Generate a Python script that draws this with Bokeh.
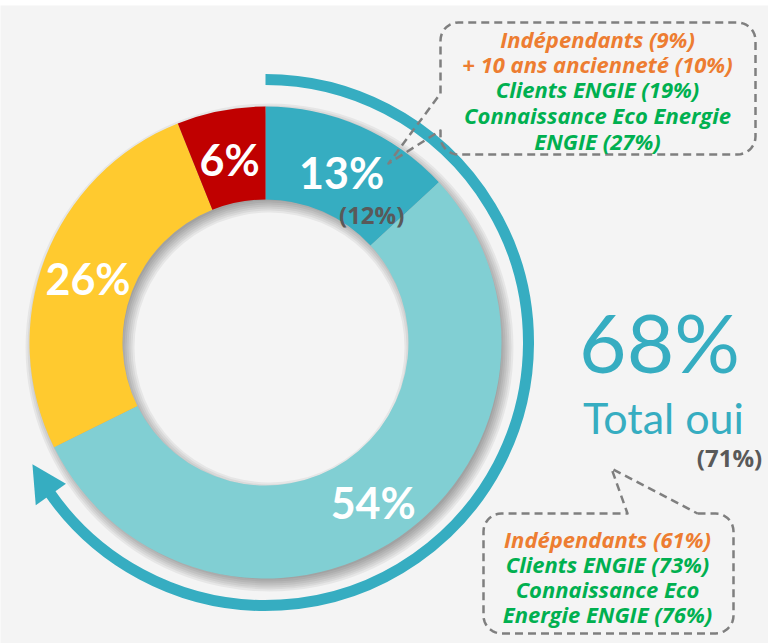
import numpy as np
from bokeh.plotting import figure
from bokeh.models import Range1d, ColumnDataSource
from bokeh.core.properties import value
from bokeh.embed import file_html
from bokeh.resources import INLINE

# ---------------- data ----------------
segment_keys = ["seg_a", "seg_b", "seg_c", "seg_d"]
segment_values = [13, 54, 26, 6]
segment_labels = ["13%", "54%", "26%", "6%"]
segment_colors = ["#36adc1", "#81cfd3", "#ffca2f", "#c00000"]
previous_first = "(12%)"

total_oui_label = "68%"
total_oui_text = "Total oui"
total_oui_previous = "(71%)"

top_callout_lines = ["Indépendants (9%)", "+ 10 ans ancienneté (10%)", "Clients ENGIE (19%)",
                     "Connaissance Eco Energie", "ENGIE (27%)"]
top_callout_colors = ["#ed7d31", "#ed7d31", "#00b050", "#00b050", "#00b050"]
bottom_callout_lines = ["Indépendants (61%)", "Clients ENGIE (73%)", "Connaissance Eco",
                        "Energie ENGIE (76%)"]
bottom_callout_colors = ["#ed7d31", "#00b050", "#00b050", "#00b050"]

# ---------------- layout ----------------
W, H = 768, 638
TOP = 5           # picture row where the figure starts


def Y(yi):
    return 643 - np.asarray(yi, dtype=float)


BG = "#f4f4f4"
TEAL = "#36adc1"
GREY_TXT = "#595959"
DASH_COL = "#7f7f7f"

cx, cy = 265.0, float(Y(342))
R_OUT, R_IN = 236.0, 143.0
R_ARROW = 263.0

p = figure(width=W, height=H, output_backend="svg", toolbar_location=None,
           x_range=Range1d(0, W), y_range=Range1d(0, H),
           x_axis_type=None, y_axis_type=None, min_border=0,
           background_fill_color=BG, border_fill_color=BG, outline_line_color=None)
p.grid.visible = False
p.margin = (TOP, 0, 0, 0)

# shadow of the ring
for s in [-4, -2, 0, 2, 4, 6, 8]:
    p.annulus(x=cx + 4, y=cy - 5, inner_radius=R_IN - s, outer_radius=R_OUT + s,
              fill_color="black", fill_alpha=0.055, line_color=None)

# donut
vals = np.array(segment_values, dtype=float)
total = vals.sum()
cum = np.concatenate([[0], np.cumsum(vals)])
start = np.pi / 2 - 2 * np.pi * cum[:-1] / total
end = np.pi / 2 - 2 * np.pi * cum[1:] / total
mid = 2 * np.pi * (cum[:-1] + cum[1:]) / 2 / total
R_LAB = 190.0
src = ColumnDataSource(dict(key=segment_keys, value=segment_values, start=start, end=end,
                            color=segment_colors, label=segment_labels,
                            lx=cx + R_LAB * np.sin(mid), ly=cy + R_LAB * np.cos(mid) - 4))
p.annular_wedge(x=cx, y=cy, inner_radius=R_IN, outer_radius=R_OUT, start_angle="start",
                end_angle="end", direction="clock", fill_color="color", line_color=None,
                source=src)
p.text(x="lx", y="ly", text="label", source=src, text_color="white",
       text_font=value("Lato"), text_font_style="bold", text_font_size="43px",
       text_align="center", text_baseline="middle")
p.text(x=[src.data["lx"][0] + 30], y=[src.data["ly"][0] - 42], text=[previous_first],
       text_color=GREY_TXT, text_font=value("Open Sans"), text_font_style="bold",
       text_font_size="24px", text_align="center", text_baseline="middle")

# arrow around the "oui" part
end_deg = 235.5
p.arc(x=cx, y=cy, radius=R_ARROW, start_angle=np.pi / 2,
      end_angle=np.pi / 2 - np.radians(end_deg), direction="clock",
      line_color=TEAL, line_width=11)


def polar(r, deg):
    t = np.radians(deg)
    return cx + r * np.sin(t), cy + r * np.cos(t)


tip = polar(R_ARROW, 242.4)
b1 = polar(R_ARROW + 18.5, 234.7)
b2 = polar(R_ARROW - 18.5, 234.7)
p.patch(x=[tip[0], b1[0], b2[0]], y=[tip[1], b1[1], b2[1]], fill_color=TEAL, line_color=None)

# total oui
p.text(x=[659], y=Y([340]), text=[total_oui_label], text_color=TEAL, text_font=value("Lato"),
       text_font_size="82px", text_align="center", text_baseline="middle")
p.text(x=[663], y=Y([417]), text=[total_oui_text], text_color=TEAL, text_font=value("Lato"),
       text_font_size="43px", text_align="center", text_baseline="middle")
p.text(x=[729], y=Y([457]), text=[total_oui_previous], text_color=GREY_TXT,
       text_font=value("Open Sans"), text_font_style="bold", text_font_size="24px",
       text_align="center", text_baseline="middle")


# callouts
def corner(xc, yc, r, a0, a1, n=10):
    a = np.radians(np.linspace(a0, a1, n))
    return list(zip(xc + r * np.cos(a), yc + r * np.sin(a)))


def draw_path(pts):
    xs = [q[0] for q in pts]
    ys = [float(Y(q[1])) for q in pts]
    p.line(xs, ys, line_color=DASH_COL, line_width=2.5, line_dash="8 5", line_join="round")


x0, y0, x1, y1, r = 440, 22, 755, 154, 18
pts = [(x0, 93)]
pts += corner(x0 + r, y0 + r, r, 180, 270)
pts += corner(x1 - r, y0 + r, r, 270, 360)
pts += corner(x1 - r, y1 - r, r, 0, 90)
pts += corner(x0 + r, y1 - r, r, 90, 180)
pts += [(x0, 130), (388, 163), (x0, 93)]
draw_path(pts)

x0, y0, x1, y1, r = 483, 513, 733, 633, 18
pts = [(697, y0)]
pts += corner(x1 - r, y0 + r, r, 270, 360)
pts += corner(x1 - r, y1 - r, r, 0, 90)
pts += corner(x0 + r, y1 - r, r, 90, 180)
pts += corner(x0 + r, y0 + r, r, 180, 270)
pts += [(627, y0), (611, 468), (697, y0)]
draw_path(pts)

top_y = [38, 63, 88, 114, 140]
p.text(x=[597] * len(top_callout_lines), y=Y(top_y), text=top_callout_lines,
       text_color=top_callout_colors, text_font=value("Open Sans"), text_font_style="bold italic",
       text_font_size="22px", text_align="center", text_baseline="middle")
bot_y = [538, 563, 588, 613]
p.text(x=[607] * len(bottom_callout_lines), y=Y(bot_y), text=bottom_callout_lines,
       text_color=bottom_callout_colors, text_font=value("Open Sans"), text_font_style="bold italic",
       text_font_size="22px", text_align="center", text_baseline="middle")

open("out.html", "w").write(file_html(p, INLINE))
